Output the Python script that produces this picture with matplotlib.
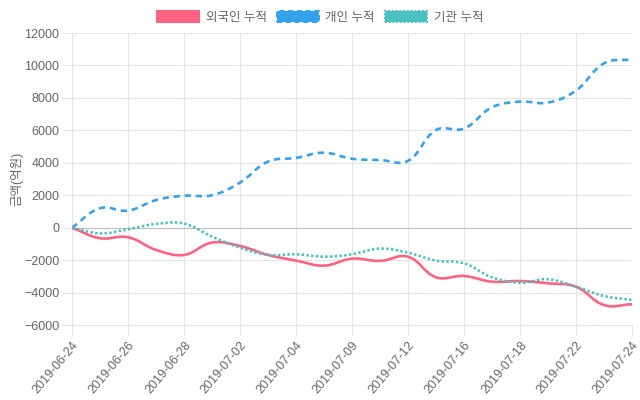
import matplotlib
matplotlib.use('Agg')
import matplotlib.pyplot as plt
import numpy as np
from matplotlib.path import Path
from matplotlib.patches import PathPatch, Patch

plt.rcParams['font.family'] = ['Liberation Sans', 'Noto Sans CJK KR', 'DejaVu Sans']

# trading days (labels shown every other point)
dates = ['2019-06-24', '2019-06-25', '2019-06-26', '2019-06-27', '2019-06-28',
         '2019-07-01', '2019-07-02', '2019-07-03', '2019-07-04', '2019-07-08',
         '2019-07-09', '2019-07-10', '2019-07-12', '2019-07-15', '2019-07-16',
         '2019-07-17', '2019-07-18', '2019-07-19', '2019-07-22', '2019-07-23',
         '2019-07-24']

# cumulative net buying (100M KRW)
foreign = [0, -650, -590, -1370, -1680, -920, -1130, -1680, -2030, -2340,
           -1910, -2050, -1790, -3060, -2980, -3330, -3290, -3430, -3640, -4770, -4720]
retail = [0, 1200, 1050, 1700, 1970, 2000, 2780, 4070, 4300, 4620,
          4250, 4170, 4120, 6020, 6110, 7420, 7770, 7710, 8450, 10130, 10380]
institution = [0, -350, -100, 230, 250, -550, -1230, -1680, -1640, -1790,
               -1640, -1290, -1540, -2030, -2200, -3060, -3390, -3180, -3640, -4210, -4460]

series_names = ['외국인 누적', '개인 누적', '기관 누적']
colors = ['#ff6384', '#36a2eb', '#4bc0c0']
styles = ['-', (0, (2.4, 1.8)), (0, (0.9, 0.9))]

grid_c = '#e5e5e5'

fig = plt.figure(figsize=(6.4, 4.0), dpi=100)
ax = fig.add_axes([72 / 640, 1 - 325 / 400, 560 / 640, 292 / 400])

x = np.arange(len(dates))
ax.set_xlim(0, len(dates) - 1)
ax.set_ylim(-6000, 12000)


def spline_path(xs, ys, t=0.4):
    # bezier curve through the points, same rule as chart.js (tension 0.4)
    pts = ax.transData.transform(np.column_stack([xs, ys]))
    n = len(pts)
    verts = [pts[0]]
    codes = [Path.MOVETO]
    ctrl = []
    for i in range(n):
        prev = pts[i - 1] if i > 0 else pts[i]
        nxt = pts[i + 1] if i < n - 1 else pts[i]
        d01 = np.hypot(*(pts[i] - prev))
        d12 = np.hypot(*(nxt - pts[i]))
        tot = d01 + d12
        s01 = d01 / tot if tot else 0
        s12 = d12 / tot if tot else 0
        c_prev = pts[i] - t * s01 * (nxt - prev)
        c_next = pts[i] + t * s12 * (nxt - prev)
        ctrl.append((c_prev, c_next))
    for i in range(1, n):
        verts += [ctrl[i - 1][1], ctrl[i][0], pts[i]]
        codes += [Path.CURVE4] * 3
    verts = ax.transData.inverted().transform(np.array(verts))
    return Path(verts, codes)


for vals, c, ls in zip([foreign, retail, institution], colors, styles):
    patch = PathPatch(spline_path(x, vals), fill=False, edgecolor=c,
                      linewidth=1.9, linestyle=ls, zorder=3, capstyle='butt')
    ax.add_patch(patch)

# axes styling
ax.set_yticks(np.arange(-6000, 12001, 2000))
ax.set_xticks(x[::2])
ax.set_xticklabels(dates[::2], rotation=50, ha='right', rotation_mode='anchor')
ax.tick_params(labelsize=9, length=7, width=0.8, color=grid_c,
               labelcolor='#666666', grid_color=grid_c, grid_linewidth=0.8)
ax.tick_params(axis='x', pad=3)
ax.tick_params(axis='y', pad=2)
ax.grid(True)
ax.axhline(0, color='#bfbfbf', linewidth=0.8, zorder=1)
for s in ax.spines.values():
    s.set_visible(False)
ax.spines['left'].set_visible(True)
ax.spines['left'].set_color(grid_c)
ax.spines['bottom'].set_visible(True)
ax.spines['bottom'].set_color(grid_c)
ax.set_axisbelow(True)

ax.set_ylabel('금액(억원)', color='#666666', fontsize=9, labelpad=0.5)

handles = [Patch(facecolor=c, edgecolor=c, linestyle=ls, linewidth=1.5)
           for c, ls in zip(colors, styles)]
leg = fig.legend(handles, series_names, loc='upper center', bbox_to_anchor=(0.5, 1.0),
                 ncol=3, frameon=False, fontsize=9, handlelength=3.4, handleheight=1.0,
                 handletextpad=0.5, columnspacing=0.8)
for t in leg.get_texts():
    t.set_color('#666666')

fig.savefig('out.png', dpi=100)
